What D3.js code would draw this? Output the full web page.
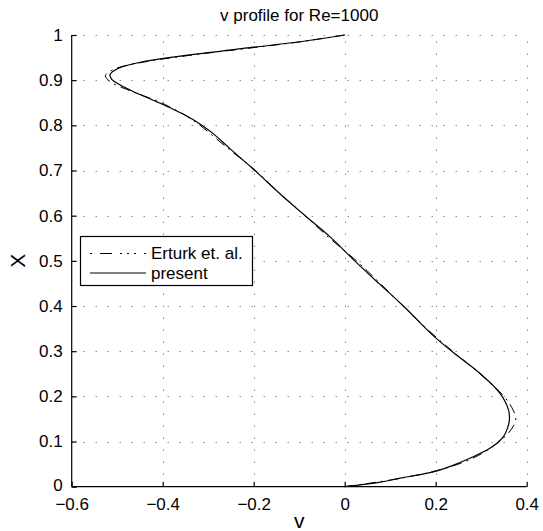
<!DOCTYPE html>
<html>
<head>
<meta charset="utf-8">
<script src="https://cdn.jsdelivr.net/npm/d3@7"></script>
<style>
  body { margin: 0; background: #fff; }
  text { font-family: "Liberation Sans", Arial, Helvetica, sans-serif; fill: #000; }
</style>
</head>
<body>
<div id="chart"></div>
<script>
// present solution: X position and v value
const presentX = [1, 0.985, 0.972, 0.956, 0.941, 0.926, 0.912, 0.902, 0.892, 0.875, 0.852, 0.835, 0.819, 0.801, 0.78, 0.75, 0.705, 0.642, 0.6, 0.553, 0.5, 0.45, 0.4, 0.334, 0.296, 0.251, 0.207, 0.17, 0.148, 0.13, 0.111, 0.085, 0.063, 0.045, 0.033, 0.019, 0.01, 0]
const presentV = [0, -0.098, -0.208, -0.34, -0.443, -0.498, -0.516, -0.512, -0.498, -0.465, -0.413, -0.376, -0.344, -0.315, -0.287, -0.254, -0.203, -0.135, -0.087, -0.032, 0.022, 0.075, 0.129, 0.195, 0.24, 0.297, 0.341, 0.36, 0.362, 0.358, 0.349, 0.319, 0.275, 0.232, 0.195, 0.122, 0.078, 0]

// Erturk et. al. reference
const erturkX = [1, 0.985, 0.97, 0.955, 0.94, 0.925, 0.91, 0.895, 0.88, 0.865, 0.85, 0.82, 0.8, 0.75, 0.7, 0.65, 0.6, 0.55, 0.5, 0.45, 0.4, 0.35, 0.3, 0.25, 0.2, 0.17, 0.15, 0.135, 0.12, 0.105, 0.09, 0.075, 0.06, 0.045, 0.03, 0.015, 0]
const erturkV = [0, -0.097, -0.217, -0.34, -0.442, -0.505, -0.526, -0.513, -0.48, -0.441, -0.403, -0.347, -0.318, -0.258, -0.196, -0.144, -0.087, -0.033, 0.026, 0.078, 0.128, 0.18, 0.237, 0.297, 0.35, 0.37, 0.376, 0.371, 0.361, 0.346, 0.327, 0.304, 0.275, 0.235, 0.179, 0.102, 0]

const xTicks = [-0.6, -0.4, -0.2, 0, 0.2, 0.4]
const yTicks = [0, 0.1, 0.2, 0.3, 0.4, 0.5, 0.6, 0.7, 0.8, 0.9, 1]
const legendLabels = ['Erturk et. al.', 'present']

const width = 543
const height = 531
const margin = { top: 35, right: 16.3, bottom: 44.3, left: 71.7 }

const svg = d3.select('#chart')
  .append('svg')
  .attr('width', width)
  .attr('height', height)

const x = d3.scaleLinear().domain([-0.6, 0.4]).range([margin.left, width - margin.right])
const y = d3.scaleLinear().domain([0, 1]).range([height - margin.bottom, margin.top])

// dotted grid
const grid = svg.append('g')
  .attr('stroke', '#555')
  .attr('stroke-width', 1)
  .attr('stroke-dasharray', '1,11')

grid.selectAll('.vg')
  .data(xTicks.slice(1))
  .join('line')
  .attr('x1', (d) => Math.round(x(d)) + 0.5)
  .attr('x2', (d) => Math.round(x(d)) + 0.5)
  .attr('y1', y(0))
  .attr('y2', y(1))

grid.selectAll('.hg')
  .data(yTicks.slice(1))
  .join('line')
  .attr('x1', x(-0.6))
  .attr('x2', x(0.4))
  .attr('y1', (d) => Math.round(y(d)) + 0.5)
  .attr('y2', (d) => Math.round(y(d)) + 0.5)

// axes (ticks inside, box off)
const xAxis = svg.append('g')
  .attr('transform', `translate(0,${y(0)})`)
  .call(d3.axisBottom(x).tickValues(xTicks).tickSize(-5).tickPadding(11)
    .tickFormat((d) => d3.format('.1f')(d).replace('-', '\u2212').replace(/^0\.0$/, '0')))
xAxis.select('.domain').attr('d', `M${x(-0.6)},0H${x(0.4)}`)

const yAxis = svg.append('g')
  .attr('transform', `translate(${x(-0.6)},0)`)
  .call(d3.axisLeft(y).tickValues(yTicks).tickSize(-5).tickPadding(9)
    .tickFormat((d) => (d === 0 || d === 1 ? d3.format('d')(d) : d3.format('.1f')(d))))
yAxis.select('.domain').attr('d', `M0,${y(1)}V${y(0)}`)
yAxis.selectAll('.tick text').filter((d) => d === 0).attr('dy', '0.2em')

svg.selectAll('.tick text').style('font-size', '17px')
svg.selectAll('.domain, .tick line').attr('stroke', '#000').attr('stroke-width', 1.2)

// curves
const line = d3.line()
  .x((d) => x(d[1]))
  .y((d) => y(d[0]))
  .curve(d3.curveCatmullRom.alpha(0.5))

svg.append('path')
  .datum(d3.zip(erturkX, erturkV))
  .attr('fill', 'none')
  .attr('stroke', '#000')
  .attr('stroke-width', 1)
  .attr('stroke-dasharray', '10,5,2,5')
  .attr('d', line)

svg.append('path')
  .datum(d3.zip(presentX, presentV))
  .attr('fill', 'none')
  .attr('stroke', '#000')
  .attr('stroke-width', 1.2)
  .attr('d', line)

// title and labels
svg.append('text')
  .attr('x', (x(-0.6) + x(0.4)) / 2)
  .attr('y', 21)
  .attr('text-anchor', 'middle')
  .style('font-size', '17px')
  .text('v profile for Re=1000')

svg.append('text')
  .attr('x', (x(-0.6) + x(0.4)) / 2)
  .attr('y', 528)
  .attr('text-anchor', 'middle')
  .style('font-size', '21px')
  .text('v')

svg.append('text')
  .attr('transform', `translate(25,${y(0.5)}) rotate(-90)`)
  .attr('text-anchor', 'middle')
  .style('font-size', '21px')
  .text('X')

// legend
const legend = svg.append('g')
legend.append('rect')
  .attr('x', 80.5)
  .attr('y', 236.5)
  .attr('width', 172)
  .attr('height', 49)
  .attr('fill', '#fff')
  .attr('stroke', '#000')
  .attr('stroke-width', 1.2)

const rows = legend.selectAll('.row')
  .data(legendLabels)
  .join('g')
  .attr('transform', (d, i) => `translate(0,${253.5 + i * 19.5})`)

rows.append('line')
  .attr('x1', 90)
  .attr('x2', 146)
  .attr('stroke', '#000')
  .attr('stroke-width', 1.2)
  .attr('stroke-dasharray', (d, i) => (i === 0 ? '2,8,12,8,2,5,2,5' : null))

rows.append('text')
  .attr('x', 151)
  .attr('dy', '0.35em')
  .style('font-size', '17px')
  .text((d) => d)
</script>
</body>
</html>
